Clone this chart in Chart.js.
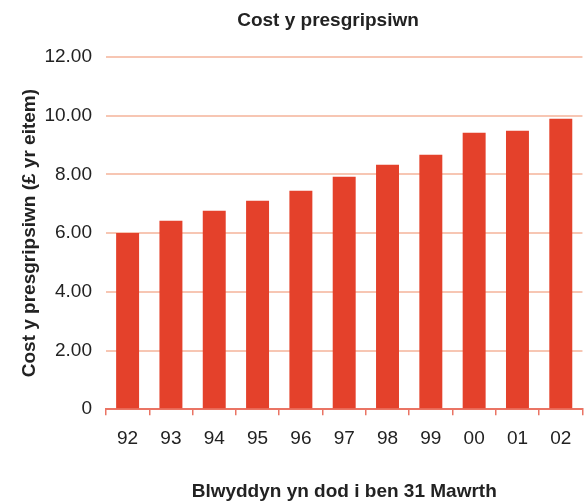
<!DOCTYPE html>
<html>
<head>
<meta charset="utf-8">
<script src="https://cdn.jsdelivr.net/npm/chart.js@4/dist/chart.umd.min.js"></script>
<style>
  html, body { margin: 0; padding: 0; background: #fff; }
  #wrap { width: 584px; height: 503px; position: relative; }
</style>
</head>
<body>
<div id="wrap"><canvas id="chart"></canvas></div>
<script>
// Chart data
const chartTitle = 'Cost y presgripsiwn';
const years = ['92', '93', '94', '95', '96', '97', '98', '99', '00', '01', '02'];
const costPerItem = [6.00, 6.42, 6.76, 7.10, 7.44, 7.92, 8.33, 8.67, 9.42, 9.49, 9.90];
const yTickValues = [0, 2, 4, 6, 8, 10, 12];
const yTickLabels = ['0', '2.00', '4.00', '6.00', '8.00', '10.00', '12.00'];
const xAxisTitle = 'Blwyddyn yn dod i ben 31 Mawrth';
const yAxisTitle = 'Cost y presgripsiwn (£ yr eitem)';

const FONT = '"Liberation Sans", Arial, sans-serif';

// Title sits a little right of the canvas centre in the original
const topTitle = {
  id: 'topTitle',
  afterDraw(chart) {
    const ctx = chart.ctx;
    ctx.save();
    ctx.font = `bold 19px ${FONT}`;
    ctx.fillStyle = '#222';
    ctx.textAlign = 'center';
    ctx.textBaseline = 'middle';
    ctx.fillText(chartTitle, 328, 21);
    ctx.restore();
  }
};

new Chart(document.getElementById('chart'), {
  type: 'bar',
  data: {
    labels: years,
    datasets: [{
      label: chartTitle,
      data: costPerItem,
      backgroundColor: '#e4412b',
      borderWidth: 0,
      categoryPercentage: 1,
      barPercentage: 0.53
    }]
  },
  options: {
    responsive: true,
    maintainAspectRatio: false,
    animation: false,
    layout: { padding: { top: 57, left: 8, right: 1, bottom: 0 } },
    plugins: {
      legend: { display: false },
      tooltip: { enabled: false }
    },
    scales: {
      x: {
        grid: {
          drawOnChartArea: false,
          drawTicks: true,
          tickLength: 6,
          color: '#ea7464',
          lineWidth: 1.5
        },
        border: { display: true, color: '#ea7464', width: 2 },
        ticks: { color: '#222', font: { family: FONT, size: 19 }, padding: 12.6 },
        title: {
          display: true,
          text: xAxisTitle,
          color: '#222',
          font: { family: FONT, size: 19, weight: 'bold' },
          padding: { top: 17, bottom: 0 }
        }
      },
      y: {
        min: 0,
        max: 12,
        afterBuildTicks: axis => { axis.ticks = yTickValues.map(v => ({ value: v })); },
        // invisible tick marks give the gap between labels and plot
        grid: { color: '#f7c6b3', lineWidth: 2, drawTicks: true, tickLength: 13, tickColor: 'rgba(0,0,0,0)' },
        border: { display: false },
        ticks: {
          color: '#222',
          font: { family: FONT, size: 19 },
          padding: 1,
          callback: (v) => yTickLabels[yTickValues.indexOf(v)]
        },
        title: {
          display: true,
          text: yAxisTitle,
          color: '#222',
          font: { family: FONT, size: 19, weight: 'bold' },
          padding: { top: 10.6, bottom: 2 }
        }
      }
    }
  },
  plugins: [topTitle]
});
</script>
</body>
</html>
